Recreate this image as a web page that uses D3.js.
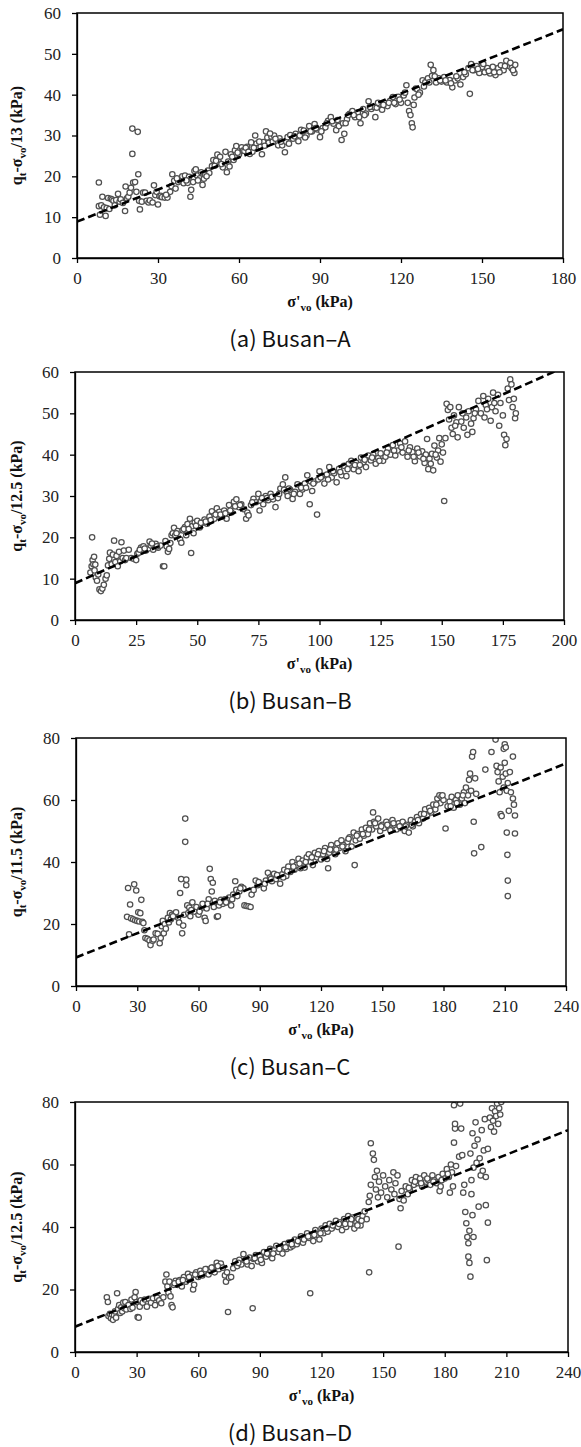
<!DOCTYPE html>
<html>
<head>
<meta charset="utf-8">
<script src="https://cdn.jsdelivr.net/npm/d3@7"></script>
<style>
  body { margin: 0; background: #fff; }
  .axis line, .axis path { stroke: #000; stroke-width: 1.3; }
</style>
</head>
<body>
<svg id="fig" width="581" height="1447"></svg>
<script>
// ---- data: [sigma'vo (kPa), value (kPa)] ----
const ptsA = [
  [8.1,18.5],[8.1,12.7],[8.5,10.6],[9,12.9],[9.4,15.0],[10,12.4],[10.6,10.3],[11,12.2],[11.5,14.7],[12,12.0],
  [12.5,14.5],[13,14.3],[13.5,14.0],[14,12.9],[14.5,14.2],[15.2,15.7],[15.8,13.8],[16.2,14.4],[17,13.5],[17.8,11.5],
  [18,17.5],[18.5,14.6],[19,15.0],[19.5,16.0],[20,17.2],[20.5,31.7],[20.5,25.5],[20.8,18.5],[21.5,18.6],[22,16.2],
  [22.5,30.9],[22.7,20.5],[23,14.0],[23.3,11.9],[24,13.8],[24.5,16.0],[25.2,16.0],[25.8,14.0],[26.5,13.6],[27,14.1],
  [28,13.6],[28.5,17.8],[29,15.4],[29.5,16.2],[30,13.1],[30.5,15.1],[31,15.2],[31.5,14.9],[32.5,14.8],[33.5,14.8],
  [34.5,16.2],[35,17.6],[35.3,20.5],[36,18.9],[36.5,17.0],[37.5,18.6],[38,19.0],[39,20.0],[39.5,18.3],[40,20.2],
  [41,18.4],[41.5,19.9],[42,15.0],[42.3,16.7],[43,18.6],[43.5,21.3],[44,21.7],[44.5,20.2],[45.5,19.5],[46,21.0],
  [46.5,17.9],[47,19.4],[47.5,20.4],[48.5,21.4],[49,20.8],[50,22.5],[50.5,24.0],[51,22.6],[52,25.3],[52.5,23.5],
  [53,24.8],[54,22.2],[55,26.0],[55.5,21.0],[56,23.6],[56.5,22.4],[57,25.4],[58,24.0],[58.5,26.4],[59,27.4],
  [60,25.4],[61,27.1],[61.5,26.3],[62,26.2],[63,27.2],[64,25.5],[64.5,28.3],[65,26.0],[66,30.0],[66.5,28.0],
  [67,26.9],[68,27.2],[68.5,25.4],[69,28.4],[70,31.0],[70.5,29.5],[71,28.2],[72,29.7],[73,30.0],[74,28.4],
  [74.5,27.6],[75,29.3],[76,27.6],[77,25.9],[77.5,28.5],[78,29.6],[79,30.1],[80,29.2],[81,30.4],[82,28.6],
  [83,31.4],[84,31.2],[85,30.0],[86,32.3],[87,31.0],[88,32.8],[89,31.5],[90,29.6],[91,31.8],[92,32.0],
  [93,33.6],[94,34.5],[95,32.9],[96,31.3],[97,32.3],[98,28.9],[98.5,33.0],[99,30.4],[100,34.0],[101,35.3],
  [102,36.0],[103,34.5],[104,35.6],[105,33.0],[106,36.5],[107,35.4],[108,38.4],[109,36.5],[110,37.0],[110.5,34.5],
  [111,36.8],[112,37.7],[113,36.3],[114,38.0],[115,37.2],[116,38.5],[117,39.4],[118,37.7],[119,39.5],[120,38.0],
  [121,39.8],[122,42.3],[122.5,38.0],[123,36.0],[123.5,35.0],[124,33.0],[124.3,32.0],[124.7,37.5],[125,39.3],[125.5,41.5],
  [126,41.3],[127,40.5],[128,43.5],[129,43.0],[130,44.0],[131,47.3],[131.5,44.6],[132,46.0],[133,43.0],[134,44.0],
  [135,43.2],[136,44.3],[137,43.0],[138,43.6],[139,41.8],[140,43.5],[141,44.0],[142,42.5],[143,44.3],[144,45.0],
  [145,46.5],[145.5,40.2],[146,47.5],[147,46.0],[148,47.0],[149,45.3],[150,46.8],[151,45.5],[152,46.5],[153,45.2],
  [154,46.8],[155,44.8],[156,46.5],[157,47.2],[158,46.0],[159,48.3],[160,47.0],[161,46.5],[162,45.3],[162.3,47.3],
  [33,15.5],[37,19.5],[40.5,19.0],[44.8,19.0],[48,20.0],[51.5,23.8],[53.5,23.0],[57.5,24.8],[59.5,25.8],[62.5,27.0],
  [63.5,26.0],[65.5,27.0],[67.5,28.5],[69.5,27.5],[71.5,30.5],[72.5,28.5],[73.5,29.2],[75.5,28.5],[78.5,28.0],[80.5,29.8],
  [82.5,30.0],[84.5,29.5],[86.5,31.0],[88.5,31.8],[90.5,31.0],[92.5,33.0],[94.5,33.5],[96.5,33.8],[99.5,33.0],[100.5,35.0],
  [102.5,35.0],[104.5,34.5],[106.5,35.0],[108.5,37.0],[111.5,38.0],[113.5,37.5],[115.5,38.0],[117.5,38.0],[119.5,38.8],[121.5,40.5],
  [126.5,40.0],[128.5,42.0],[130.5,43.0],[132.5,44.5],[134.5,43.5],[136.5,43.5],[138.5,42.8],[140.5,44.5],[143.5,45.5],[146.5,46.0],
  [148.5,46.3],[150.5,47.5],[152.5,45.8],[154.5,45.5],[156.5,45.5],[158.5,47.0],[160.5,47.8],[161.5,46.0]
];
const ptsB = [
  [6.3,11.5],[6.8,13.0],[7,20.0],[7.2,14.5],[7.5,13.5],[7.8,15.3],[8,12.0],[8.3,13.4],[8.5,10.3],[9,9.5],
  [9.5,11.0],[10,7.4],[10.6,7.0],[11.2,7.6],[11.8,8.5],[12.5,10.0],[13,10.8],[13.5,13.2],[14,14.8],[14.3,16.3],
  [15,13.5],[15.5,15.8],[16,19.2],[16.5,14.0],[17,15.5],[17.5,13.0],[18,16.5],[18.5,14.2],[19,18.8],[19.5,15.0],
  [20,16.8],[20.5,14.5],[21,15.0],[22,17.0],[23,15.0],[24,14.8],[25,14.5],[25.5,16.0],[26,16.3],[27,17.5],
  [28,17.8],[29,16.8],[30,17.3],[30.5,19.0],[31,18.0],[32,17.0],[33,18.4],[34,17.5],[35,18.0],[36,13.0],
  [36.5,13.0],[37,19.1],[37.5,17.8],[38,16.5],[38.5,17.2],[39,18.6],[39.5,20.5],[40,21.0],[40.5,22.3],[41,20.5],
  [42,21.5],[43,19.5],[43.5,18.7],[44,21.7],[45,22.5],[45.5,20.5],[46,23.2],[47,24.5],[47.5,16.2],[48,22.7],
  [48.5,21.0],[49,23.6],[50,24.0],[51,22.4],[52,23.5],[53,24.3],[54,23.3],[55,25.0],[56,26.3],[57,24.5],
  [58,27.0],[58.5,25.6],[59,26.2],[60,25.0],[61,26.5],[62,24.5],[63,27.8],[64,26.0],[65,28.6],[66,29.2],
  [67,27.3],[68,28.0],[69,26.8],[70,24.5],[70.5,26.0],[71,25.3],[72,27.8],[73,29.3],[74,28.5],[75,30.5],
  [75.5,26.5],[76,28.8],[77,28.0],[78,30.0],[79,29.0],[80,30.5],[81,29.2],[82,27.3],[83,29.5],[84,31.8],
  [85,32.8],[86,34.5],[86.5,31.0],[87,30.0],[88,31.5],[89,29.3],[90,31.0],[91,32.8],[92,30.5],[93,31.6],
  [94,33.0],[95,35.0],[96,28.0],[96.5,33.5],[97,31.2],[98,33.5],[99,25.5],[99.5,34.0],[100,36.0],[101,34.8],
  [102,33.0],[103,35.2],[104,37.0],[105,34.5],[106,35.5],[107,33.3],[108,36.6],[109,35.0],[110,37.3],[111,34.8],
  [112,37.8],[113,38.5],[114,36.5],[115,38.0],[116,36.0],[117,39.3],[118,38.2],[119,37.0],[120,39.8],[121,38.6],
  [122,40.0],[123,37.8],[124,39.2],[125,40.3],[126,38.5],[127,39.5],[128,41.5],[129,40.0],[130,42.3],[131,39.8],
  [132,41.0],[133,42.7],[134,40.5],[135,43.2],[136,39.5],[137,41.8],[138,40.6],[139,38.4],[140,41.5],[141,39.6],
  [142,40.8],[143,38.0],[143.5,40.0],[144,43.8],[144.5,36.5],[145,39.0],[145.5,37.8],[146,40.2],[146.5,36.2],[147,42.2],
  [148,39.3],[148.5,41.0],[149,44.0],[149.5,38.3],[150,42.5],[150.5,40.5],[151,28.8],[151.5,44.0],[152,52.3],[152.5,50.8],
  [153,48.5],[153.5,51.5],[154,46.5],[154.5,45.0],[155,49.5],[156,47.8],[156.5,44.2],[157,51.5],[158,48.0],[159,46.5],
  [160,49.0],[160.5,44.8],[161,50.5],[162,47.5],[162.5,45.5],[163,48.8],[164,51.0],[165,53.0],[166,50.0],[167,54.2],
  [167.5,49.0],[168,52.0],[169,53.5],[170,48.2],[170.5,51.5],[171,55.0],[172,50.5],[173,54.5],[173.5,47.0],[174,52.5],
  [175,49.5],[175.5,44.8],[176,42.3],[176.5,43.8],[177,56.0],[177.5,53.2],[178,58.2],[178.5,57.0],[179,51.5],[179.5,53.5],
  [180,48.8],[180.3,50.0],
  [26.5,17.0],[28.5,17.3],[31.5,18.5],[33.5,17.8],[41.5,21.0],[44.5,22.0],[46.5,22.0],[49.5,22.8],[51.5,23.5],[53.5,23.8],
  [55.5,24.2],[57.5,25.5],[59.5,25.5],[61.5,25.8],[63.5,26.5],[65.5,27.5],[67.5,27.8],[72.5,28.5],[76.5,29.5],[78.5,29.5],
  [80.5,29.8],[83.5,30.5],[85.5,31.5],[87.5,31.8],[89.5,30.5],[92.5,32.0],[94.5,32.0],[97.5,33.0],[100.5,34.5],[103.5,34.0],
  [105.5,36.0],[108.5,35.8],[111.5,36.5],[114.5,37.5],[116.5,37.5],[118.5,38.8],[121.5,39.3],[124.5,38.5],[127.5,40.5],[130.5,41.0],
  [133.5,41.8],[136.5,41.0],[138.5,39.5],[140.5,40.5],[142.5,39.0],[147.5,40.0],[155.5,47.0],[158.5,50.0],[163.5,50.0],[168.5,51.0],
  [171.5,52.5]
];
const ptsC = [
  [25,22.3],[25.5,31.6],[26,16.7],[26.5,26.3],[27,21.8],[28,21.5],[28.5,32.8],[29,21.2],[29.5,30.8],[30,21.0],
  [30.5,23.8],[31,20.8],[31.5,23.5],[32,27.8],[32.5,20.7],[33,20.3],[33.5,18.0],[34,15.5],[35,15.2],[36,14.7],
  [36.5,13.2],[37.5,14.6],[38,15.0],[39,17.0],[40,16.8],[41,13.8],[41.5,15.5],[42,19.3],[42.5,21.0],[43,17.0],
  [43.5,20.0],[44,18.5],[45,22.0],[45.5,20.5],[46,23.5],[46.5,21.5],[47,23.0],[48,22.5],[49,23.8],[50,22.0],
  [50.5,20.5],[51,30.0],[51.5,34.5],[52,17.0],[52.5,19.5],[53,23.0],[53.5,54.0],[53.5,46.5],[54,34.3],[54,32.5],
  [54.5,26.0],[55,23.5],[55.5,25.3],[56,22.5],[57,27.0],[58,24.0],[59,25.5],[60,23.0],[61,24.8],[62,26.5],
  [63,22.0],[63.5,21.0],[64,25.0],[65,28.0],[65.5,37.8],[66,34.5],[66.5,30.5],[67,33.3],[67.5,25.5],[68,27.5],
  [69,22.3],[69.5,22.5],[70,26.0],[71,27.8],[72,26.5],[73,28.0],[74,27.0],[75,28.5],[76,26.0],[77,29.5],
  [78,33.8],[78.5,31.0],[79,29.0],[80,30.5],[81,32.0],[82,31.5],[82.5,26.0],[83.5,25.8],[84.5,25.7],[85.5,25.5],
  [86,29.5],[87,31.0],[88,34.0],[89,32.5],[90,33.0],[91,32.8],[92,31.5],[93,34.0],[94,36.5],[95,35.0],
  [96,33.8],[97,36.2],[98,34.5],[99,35.5],[100,33.0],[101,36.0],[102,37.5],[103,35.5],[104,38.5],[105,36.8],
  [106,40.0],[107,37.5],[108,39.0],[109,41.0],[110,38.0],[111,40.5],[112,38.2],[113,41.5],[114,42.5],[115,40.0],
  [116,39.0],[117,43.0],[118,41.5],[119,43.5],[120,40.8],[121,42.5],[122,44.5],[123,41.0],[123.5,38.0],[124,43.0],
  [125,45.5],[126,44.0],[127,42.5],[128,46.0],[129,44.5],[130,47.0],[131,45.5],[132,43.5],[133,46.5],[134,48.0],
  [135,45.0],[136,49.5],[136.5,39.0],[137,47.0],[138,49.0],[139,47.5],[140,50.5],[141,48.5],[142,51.0],[143,49.0],
  [144,52.5],[145,50.5],[145.5,56.0],[146,53.0],[147,51.5],[148,54.0],[149,50.0],[150,52.0],[151,51.0],[152,53.0],
  [153,51.5],[154,50.2],[155,53.5],[156,52.0],[157,50.5],[158,52.5],[159,51.0],[160,53.0],[161,50.0],[162,52.0],
  [163,49.5],[164,53.5],[165,51.5],[166,53.0],[167,54.5],[168,52.5],[169,55.5],[170,54.0],[171,57.0],[172,55.0],
  [173,57.5],[174,56.0],[175,58.5],[176,57.0],[177,60.5],[178,61.5],[178.5,59.0],[179,61.0],[180,60.0],[181,50.8],
  [182,58.0],[183,59.5],[184,61.0],[185,57.5],[186,60.0],[187,61.5],[188,58.5],[189,60.5],[190,62.5],[190.5,59.0],
  [191,64.0],[192,61.5],[192.5,66.5],[193,68.5],[193.5,63.0],[194,74.0],[194.5,75.5],[194.8,53.0],[195,42.8],[195.5,67.0],
  [196,62.0],[198.5,44.8],[200.5,69.8],[203.5,75.5],[205.5,79.5],[206,71.0],[206.5,69.0],[207,66.0],[207.5,62.5],[208,70.5],
  [208,55.5],[208.5,54.8],[209,67.5],[209.5,64.0],[209.5,76.5],[210,78.0],[210,72.0],[210.5,68.5],[210.5,77.0],[211,63.0],
  [211,49.5],[211.3,42.3],[211.5,34.0],[211.5,29.0],[211.5,65.5],[212,56.5],[212.5,69.0],[213,62.5],[214,74.0],[214,60.5],
  [214.5,58.5],[215,55.0],[215,49.2],
  [89.5,33.5],[92.5,33.0],[95.5,34.5],[98.5,35.8],[101.5,35.0],[103.5,37.0],[106.5,38.5],[109.5,39.5],[112.5,40.0],[115.5,41.5],
  [118.5,42.5],[121.5,43.5],[124.5,44.0],[127.5,44.0],[130.5,45.0],[133.5,47.5],[137.5,48.5],[140.5,49.0],[143.5,50.5],[146.5,52.5],
  [149.5,51.5],[152.5,52.0],[155.5,52.5],[158.5,51.5],[161.5,51.5],[164.5,52.0],[167.5,53.5],[170.5,55.5],[173.5,56.5],[176.5,58.5],
  [179.5,61.5],[183.5,58.0],[186.5,59.0],[189.5,61.5],[47.5,22.5],[56.5,24.5],[60.5,24.0],[64.5,26.5],[70.5,27.0],[73.5,27.0],
  [76.5,28.0],[80.5,31.5]
];
const ptsD = [
  [15.5,17.5],[16,16.0],[16.3,11.5],[17,12.2],[17.5,10.8],[18,12.0],[18.5,10.3],[19,11.8],[19.5,13.0],[20,11.0],
  [20.5,18.8],[21,13.8],[21.5,15.0],[22,12.5],[22.5,14.3],[23,13.0],[23.5,15.8],[24,14.0],[24.5,16.0],[25,13.6],
  [26,15.0],[27,13.8],[27.5,16.8],[28,14.2],[29,17.5],[29.5,19.2],[30,16.0],[30.5,11.2],[31,11.0],[31.5,14.5],
  [32,16.5],[33,15.8],[34,16.8],[35,14.5],[36,17.0],[37,15.8],[38,17.2],[39,15.0],[40,17.3],[41,16.5],
  [42,15.6],[43,17.5],[44,22.5],[44.5,24.8],[45,21.0],[45.5,19.0],[46,22.5],[46.5,17.8],[47,15.0],[47.5,14.3],
  [48,21.5],[49,22.8],[50,21.5],[51,23.0],[52,21.0],[53,24.0],[54,22.5],[55,25.0],[56,23.2],[57,24.6],
  [57.5,20.0],[58,21.5],[59,25.5],[60,24.0],[61,26.0],[62,24.5],[63,25.8],[64,26.5],[65,24.8],[66,26.0],
  [67,27.0],[68,25.5],[69,28.5],[70,26.5],[71,28.3],[72,27.0],[73,24.5],[73.5,22.5],[74,25.5],[74.5,12.8],
  [75,23.8],[76,24.0],[77,26.8],[78,29.0],[79,27.5],[80,29.5],[81,28.0],[82,31.3],[83,29.5],[84,28.0],
  [85,30.2],[86,27.5],[86.5,14.0],[87,29.8],[88,31.0],[89,29.0],[90,30.5],[91,28.5],[92,32.0],[93,30.5],
  [94,31.5],[95,33.0],[96,30.0],[97,32.5],[98,34.0],[99,32.0],[100,33.5],[101,31.5],[102,34.5],[103,33.0],
  [104,35.0],[105,33.5],[106,34.0],[107,36.0],[108,34.5],[109,35.5],[110,37.0],[111,35.0],[112,36.5],[113,38.0],
  [114,36.5],[114.5,18.8],[115,37.5],[116,35.5],[117,39.0],[118,37.5],[119,36.0],[120,39.5],[121,38.0],[122,40.5],
  [123,38.5],[124,41.0],[125,39.5],[126,40.5],[127,42.0],[128,40.0],[129,41.5],[130,39.0],[131,42.5],[132,40.0],
  [133,43.5],[134,41.0],[135,43.0],[136,39.5],[137,41.5],[138,42.5],[139,40.5],[140,43.5],[141,45.0],[142,42.5],
  [143,48.0],[143.2,25.5],[143.5,50.0],[144,66.8],[144,53.5],[145,63.5],[145.5,61.5],[146,56.0],[146.5,52.0],[147,58.0],
  [147.5,49.5],[148,54.5],[149,51.0],[150,56.5],[151,53.0],[152,49.5],[153,55.0],[154,52.0],[155,57.5],[155.5,50.5],
  [156,54.0],[157,56.5],[157.5,33.7],[158,49.0],[158.5,46.0],[159,51.5],[160,48.5],[161,53.0],[162,50.5],[163,52.0],
  [164,55.0],[165,53.5],[166,56.0],[167,54.0],[168,55.5],[169,53.0],[170,56.5],[171,54.5],[172,55.0],[173,53.5],
  [174,56.5],[175,55.0],[176,54.0],[177,56.0],[177.5,51.5],[178,53.0],[179,57.0],[180,55.5],[181,58.5],[182,56.0],
  [182.5,51.0],[183,60.0],[183.5,57.5],[184,53.0],[184.5,79.0],[184.5,67.0],[185,71.5],[185,73.0],[185.5,59.5],[187,62.5],
  [187.5,79.5],[188,71.5],[188.5,63.0],[189,51.0],[189.5,53.5],[190,44.8],[190.5,41.2],[191,36.8],[191.5,34.8],[191.5,30.5],
  [192,28.5],[192,38.8],[192.5,24.1],[192.5,63.5],[193,55.0],[193,50.5],[193.5,43.8],[193.5,70.0],[194,59.0],[194,36.8],
  [194.5,66.0],[195,73.5],[195.5,60.5],[196,68.0],[196.5,46.5],[197,62.0],[197.5,56.5],[198,71.0],[198.5,58.0],[199,64.5],
  [199.5,74.5],[200,56.0],[200,47.0],[200.5,29.4],[201,41.4],[201,65.0],[202,75.0],[202.5,72.0],[203,78.0],[203.5,74.0],
  [204,70.5],[204.5,77.0],[205,75.5],[205.5,79.5],[206,73.0],[206.5,78.0],[207,76.0],[207.5,80.0],
  [48.5,22.0],[50.5,22.5],[52.5,23.0],[55.5,24.0],[58.5,24.8],[61.5,25.0],[63.5,26.5],[66.5,27.0],[69.5,27.5],[79.5,28.5],
  [83.5,29.0],[87.5,30.0],[90.5,29.5],[93.5,31.5],[96.5,31.5],[99.5,33.0],[102.5,33.5],[105.5,34.5],[108.5,35.5],[111.5,36.0],
  [113.5,37.0],[116.5,37.5],[119.5,38.0],[122.5,39.5],[125.5,40.5],[128.5,41.0],[131.5,41.0],[134.5,42.5],[137.5,40.5],[139.5,42.0],
  [162.5,52.5],[165.5,54.5],[168.5,54.0],[171.5,55.5],[174.5,54.5],[178.5,55.0],[181.5,57.0]
];

// dashed trend lines: end points
const fitA = [[0, 8.9], [180, 56.0]];
const fitB = [[0, 8.9], [200, 61.1]];
const fitC = [[0, 9.2], [240, 71.8]];
const fitD = [[0, 8.1], [240, 71.0]];

// axis ticks
const xTicksA = [0, 30, 60, 90, 120, 150, 180];
const xTicksB = [0, 25, 50, 75, 100, 125, 150, 175, 200];
const xTicksCD = [0, 30, 60, 90, 120, 150, 180, 210, 240];
const yTicks60 = [0, 10, 20, 30, 40, 50, 60];
const yTicks80 = [0, 20, 40, 60, 80];

const divisors = ["13", "12.5", "11.5", "12.5"];
const captions = ["(a)  Busan\u2013A", "(b)  Busan\u2013B", "(c)  Busan\u2013C", "(d)  Busan\u2013D"];

const SERIF = "'Liberation Serif', 'DejaVu Serif', 'Times New Roman', serif";
const GOTHIC = "'Noto Sans CJK KR', 'Noto Sans', sans-serif";

const svg = d3.select("#fig");

const panels = [
  {pts: ptsA, fit: fitA, xTicks: xTicksA, yTicks: yTicks60, div: divisors[0], cap: captions[0],
   left: 77, right: 563, top: 13, bottom: 258},
  {pts: ptsB, fit: fitB, xTicks: xTicksB, yTicks: yTicks60, div: divisors[1], cap: captions[1],
   left: 75, right: 564, top: 372, bottom: 620},
  {pts: ptsC, fit: fitC, xTicks: xTicksCD, yTicks: yTicks80, div: divisors[2], cap: captions[2],
   left: 76, right: 566, top: 738, bottom: 986},
  {pts: ptsD, fit: fitD, xTicks: xTicksCD, yTicks: yTicks80, div: divisors[3], cap: captions[3],
   left: 75, right: 568, top: 1102, bottom: 1352}
];

panels.forEach((p, i) => drawPanel(p, i));

function drawPanel(p, i) {
  const x = d3.scaleLinear()
    .domain([0, d3.max(p.xTicks)])
    .range([p.left, p.right]);
  const y = d3.scaleLinear()
    .domain([0, d3.max(p.yTicks)])
    .range([p.bottom, p.top]);

  const g = svg.append("g").attr("class", "panel");

  // clip to plot area
  const clipId = "clip" + i;
  svg.append("clipPath").attr("id", clipId)
    .append("rect")
    .attr("x", p.left).attr("y", p.top)
    .attr("width", p.right - p.left).attr("height", p.bottom - p.top);

  const plot = g.append("g").attr("clip-path", `url(#${clipId})`);

  // open circle markers
  plot.selectAll("circle")
    .data(p.pts)
    .join("circle")
    .attr("cx", d => x(d[0]))
    .attr("cy", d => y(d[1]))
    .attr("r", 2.7)
    .attr("fill", "#fff")
    .attr("stroke", "#505050")
    .attr("stroke-width", 1.25);

  // dashed regression line
  plot.append("path")
    .datum(p.fit)
    .attr("d", d3.line().x(d => x(d[0])).y(d => y(d[1])))
    .attr("fill", "none")
    .attr("stroke", "#000")
    .attr("stroke-width", 2.6)
    .attr("stroke-dasharray", "8,4");

  // axes
  const xAxisG = g.append("g")
    .attr("class", "axis")
    .attr("transform", `translate(0,${p.bottom})`)
    .call(d3.axisBottom(x).tickValues(p.xTicks).tickSize(5).tickSizeOuter(0).tickPadding(9));

  const yAxisG = g.append("g")
    .attr("class", "axis")
    .attr("transform", `translate(${p.left},0)`)
    .call(d3.axisLeft(y).tickValues(p.yTicks).tickSize(5).tickSizeOuter(0).tickPadding(11));

  [xAxisG, yAxisG].forEach(a => a.selectAll("text")
    .style("font-family", SERIF)
    .style("font-size", "17px")
    .style("fill", "#222"));

  // frame
  g.append("rect")
    .attr("x", p.left).attr("y", p.top)
    .attr("width", p.right - p.left).attr("height", p.bottom - p.top)
    .attr("fill", "none")
    .attr("stroke", "#000")
    .attr("stroke-width", 1.5);

  // y title: q_t - sigma_vo / n (kPa)
  const midY = (p.top + p.bottom) / 2;
  const yt = g.append("text")
    .attr("transform", `translate(22,${midY}) rotate(-90)`)
    .attr("text-anchor", "middle")
    .style("font-family", SERIF)
    .style("font-size", "16px")
    .style("font-weight", "700")
    .style("fill", "#111");
  yt.append("tspan").text("q");
  yt.append("tspan").attr("dy", 4).style("font-size", "11px").text("t");
  yt.append("tspan").attr("dy", -4).text("-\u03C3");
  yt.append("tspan").attr("dy", 4).style("font-size", "11px").text("vo");
  yt.append("tspan").attr("dy", -4).text(`/${p.div} (kPa)`);

  // x title: sigma'_vo (kPa)
  const xt = g.append("text")
    .attr("x", (p.left + p.right) / 2)
    .attr("y", p.bottom + 49)
    .attr("text-anchor", "middle")
    .style("font-family", SERIF)
    .style("font-size", "16px")
    .style("font-weight", "700")
    .style("fill", "#111");
  xt.append("tspan").text("\u03C3'");
  xt.append("tspan").attr("dy", 4).style("font-size", "11px").text("vo");
  xt.append("tspan").attr("dy", -4).text(" (kPa)");

  // caption, centred on the page below each panel
  g.append("text")
    .attr("x", 290)
    .attr("y", p.bottom + 89)
    .attr("text-anchor", "middle")
    .style("font-family", GOTHIC)
    .style("font-size", "22px")
    .style("fill", "#111")
    .text(p.cap);
}
</script>
</body>
</html>
